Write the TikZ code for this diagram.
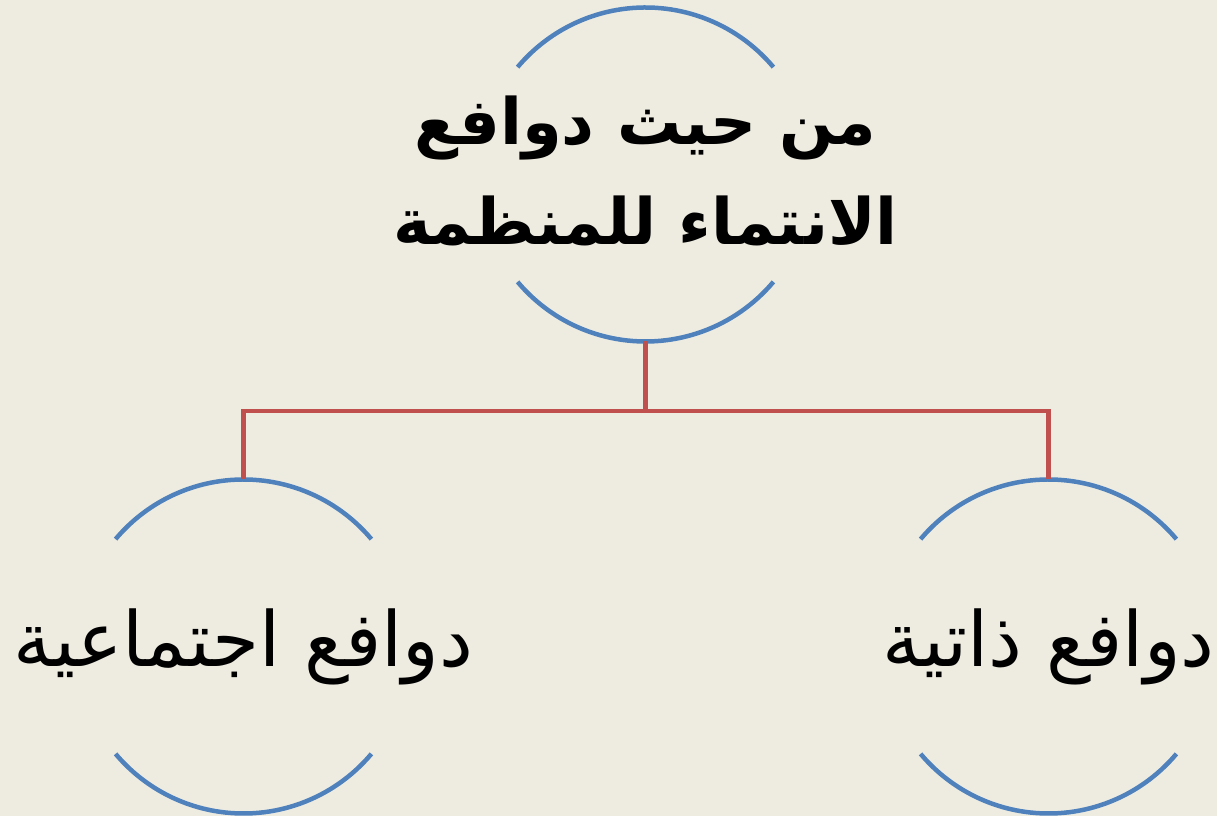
\documentclass[tikz,border=0pt]{standalone}
\usepackage{fontspec}
\usetikzlibrary{positioning, calc}
\TeXXeTstate=1
\newfontfamily\arabicfont[Script=Arabic]{DejaVu Sans}
\definecolor{bgtan}{HTML}{EEECE1}
\definecolor{ringblue}{HTML}{4F81BD}
\definecolor{linkred}{HTML}{C0504D}
\tikzset{%
	ring/.style={circle, minimum size=334pt, inner sep=0pt, outer sep=0pt},
	arcline/.style={draw=ringblue, line width=4.5pt},
	link/.style={draw=linkred, line width=4.5pt},
	headtext/.style={align=center, inner sep=0pt, font=\arabicfont\bfseries\fontsize{64}{100}\selectfont},
	leaftext/.style={align=center, inner sep=0pt, font=\arabicfont\fontsize{76}{86}\selectfont}
}
\begin{document}
\begin{tikzpicture}[x=1pt, y=1pt]
	\fill[bgtan] (0,0) rectangle (1217,816);
	\useasboundingbox (0,0) rectangle (1217,816);

	\node[ring] (topc) at (645.5,641.5) {};
	\node[ring] (leftc) at (243.5,169.5) {};
	\node[ring] (rightc) at (1048.5,169.5) {};
	\coordinate (fork) at (topc.south |- 0,405);

	% open circles: only upper and lower arcs
	\foreach \c in {topc, leftc, rightc} {
		\draw[arcline] (\c.40) arc[start angle=40, end angle=140, radius=167pt];
		\draw[arcline] (\c.-40) arc[start angle=-40, end angle=-140, radius=167pt];
	}

	\node[headtext] (toplbl) at ([yshift=4pt]topc.center) {\beginR من حيث دوافع\endR\\\beginR الانتماء للمنظمة\endR};
	\node[leaftext] (leftlbl) at (leftc.center) {\beginR دوافع اجتماعية\endR};
	\node[leaftext] (rightlbl) at (rightc.center) {\beginR دوافع ذاتية\endR};

	\draw[link] (topc.south) -- (fork);
	\draw[link] (fork) -| (leftc.north);
	\draw[link] (fork) -| (rightc.north);
\end{tikzpicture}
\end{document}
